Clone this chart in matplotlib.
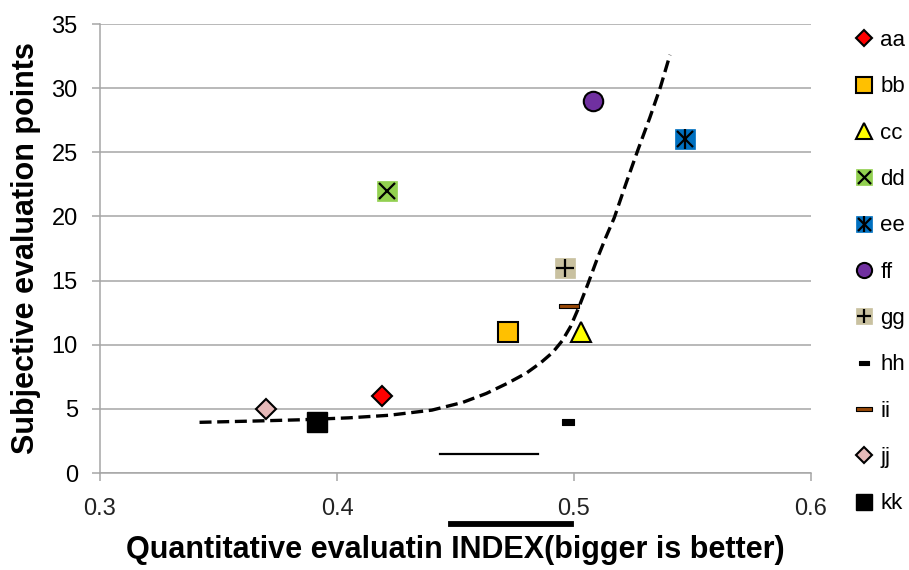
import numpy as np
import matplotlib
matplotlib.use("Agg")
import matplotlib.pyplot as plt
from matplotlib.path import Path
from matplotlib.lines import Line2D

plt.rcParams["font.family"] = ["Liberation Sans", "DejaVu Sans"]

# ── Data ──────────────────────────────────────────────────────────────
labels = ["aa", "bb", "cc", "dd", "ee", "ff", "gg", "hh", "ii", "jj", "kk"]
index_vals = [0.419, 0.472, 0.503, 0.421, 0.547, 0.508, 0.496, 0.4975, 0.498, 0.370, 0.3915]
subj_points = [6, 11, 11, 22, 26, 29, 16, 4, 13, 5, 4]

# dashed trend curve
trend_x = [0.342, 0.365, 0.385, 0.405, 0.422, 0.440, 0.453, 0.463, 0.472, 0.480,
           0.486, 0.491, 0.495, 0.4985, 0.502, 0.506, 0.510, 0.5135, 0.517, 0.522,
           0.527, 0.532, 0.5365, 0.5405]
trend_y = [3.95, 4.05, 4.15, 4.3, 4.5, 4.9, 5.5, 6.2, 7.0, 7.8,
           8.6, 9.4, 10.3, 11.4, 12.9, 14.8, 16.8, 18.4, 19.9, 22.6,
           25.2, 27.7, 30.1, 32.6]

# stray horizontal stroke inside the plot
stroke_x = [0.4435, 0.4848]
stroke_y = [1.5, 1.5]

# ── Marker styles ─────────────────────────────────────────────────────
def rect_marker(h):
    return Path([(-1, -h), (1, -h), (1, h), (-1, h), (-1, -h)],
                [Path.MOVETO, Path.LINETO, Path.LINETO, Path.LINETO, Path.CLOSEPOLY])

styles = {
    "aa": [dict(marker="D", ms=10.5, mfc="#FF0000", mec="black", mew=1.5)],
    "bb": [dict(marker="s", ms=14, mfc="#FFC000", mec="black", mew=1.5)],
    "cc": [dict(marker="^", ms=14, mfc="#FFFF00", mec="black", mew=1.5)],
    "dd": [dict(marker="s", ms=14, mfc="#92D050", mec="#92D050", mew=0.5),
           dict(marker="x", ms=12, mec="black", mew=1.6)],
    "ee": [dict(marker="s", ms=14, mfc="#0070C0", mec="#0070C0", mew=0.5),
           dict(marker="x", ms=12, mec="black", mew=1.6),
           dict(marker="|", ms=14, mec="black", mew=1.6)],
    "ff": [dict(marker="o", ms=14, mfc="#7030A0", mec="black", mew=1.5)],
    "gg": [dict(marker="s", ms=14, mfc="#C9C1A0", mec="#C9C1A0", mew=0.5),
           dict(marker="+", ms=13, mec="black", mew=1.6)],
    "hh": [dict(marker=rect_marker(0.45), ms=8.5, mfc="black", mec="black", mew=0.8)],
    "ii": [dict(marker=rect_marker(0.22), ms=14.5, mfc="#984807", mec="black", mew=0.8)],
    "jj": [dict(marker="D", ms=10.5, mfc="#E6B9B8", mec="black", mew=1.5)],
    "kk": [dict(marker="s", ms=15, mfc="black", mec="black", mew=1)],
}

fig = plt.figure(figsize=(9.09, 5.70), dpi=100)
ax = fig.add_axes([100 / 909, 1 - 473 / 570, 711 / 909, 449 / 570])

ax.plot(trend_x, trend_y, color="black", lw=2.4, dashes=(3.6, 1.7), zorder=3)
ax.plot(stroke_x, stroke_y, color="black", lw=1.6, zorder=3)

handles = []
for lab, x, y in zip(labels, index_vals, subj_points):
    parts = []
    for st in styles[lab]:
        ln, = ax.plot([x], [y], linestyle="none", zorder=4, clip_on=False, **st)
        parts.append(ln)
    handles.append(tuple(parts))

ax.set_xlim(0.3, 0.6)
ax.set_ylim(0, 35)
ax.set_xticks([0.3, 0.4, 0.5, 0.6])
ax.set_xticklabels(["0.3", "0.4", "0.5", "0.6"])
ax.set_yticks(np.arange(0, 36, 5))
ax.yaxis.grid(True, color="#A6A6A6", lw=1.1)
ax.set_axisbelow(True)
for side in ["top", "right"]:
    ax.spines[side].set_visible(False)
for side in ["left", "bottom"]:
    ax.spines[side].set_color("#A6A6A6")
    ax.spines[side].set_linewidth(1.1)
ax.tick_params(axis="both", colors="#A6A6A6", labelcolor="black", labelsize=17,
               length=6, width=1.1, direction="out")
ax.tick_params(axis="x", pad=12)
ax.tick_params(axis="y", pad=10)
for t in ax.get_xticklabels():
    t.set_color("#222222")

ax.set_xlabel("Quantitative evaluatin INDEX(bigger is better)", fontsize=22, fontweight="bold")
ax.set_ylabel("Subjective evaluation points", fontsize=22, fontweight="bold")
ax.xaxis.set_label_coords(0.5, -77 / 449)
ax.xaxis.label.set_va("center")
ax.yaxis.set_label_coords(-74 / 711, 0.5)
ax.yaxis.label.set_va("center")

# thick underline stroke below the tick labels
fig.add_artist(Line2D([451 / 909, 571 / 909], [1 - 524 / 570, 1 - 524 / 570],
                      color="black", lw=4.2, transform=fig.transFigure))

fig.legend(handles, labels, loc="upper left", bbox_to_anchor=(856 / 909, 1 - 30 / 570),
           frameon=False, prop={"size": 16}, markerscale=0.78, handlelength=0.75,
           handletextpad=0.35, labelspacing=1.14, borderaxespad=0, borderpad=0)

fig.savefig("out.png", dpi=100)
